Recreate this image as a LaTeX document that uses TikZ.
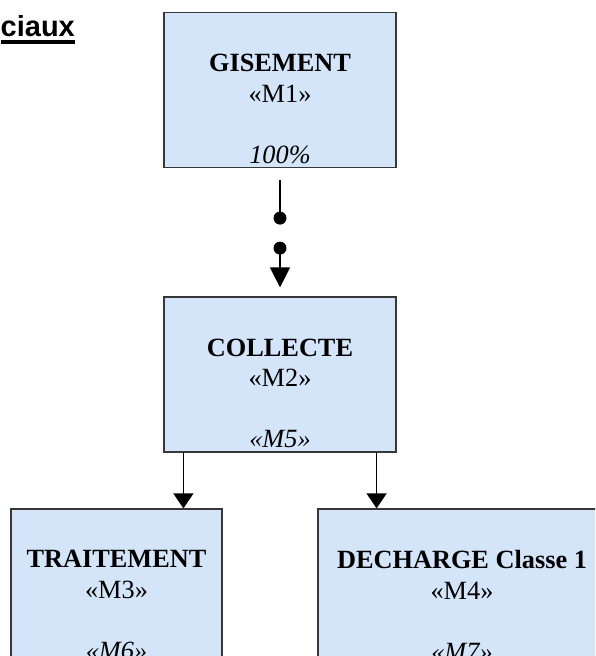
\documentclass[tikz,border=0pt]{standalone}
\usepackage{fontspec}
\setmainfont{Liberation Serif}
\newfontfamily\arialfont{Liberation Sans}
\usetikzlibrary{arrows.meta}
\definecolor{fondbloc}{RGB}{212,229,249}
\definecolor{bordbloc}{RGB}{55,55,55}
\begin{document}
\begin{tikzpicture}[x=1pt, y=-1pt,
			bloc/.style = {draw=bordbloc, line width=1.2pt, fill=fondbloc, minimum height=155pt, inner sep=0pt},
			texte/.style = {align=center, inner sep=0pt, anchor=north, font=\fontsize{26.3}{30.6}\selectfont},
			lien/.style = {line width=1.2pt},
			fleche/.style = {line width=1.2pt, -{Triangle[width=20pt,length=#1]}},
			fleche/.default = 15pt
					]
			\def\ytexte{-42pt}
			\def\rdot{6.5pt}
			\useasboundingbox (0,0) rectangle (595,656);
			\clip (0,0) rectangle (595,656);
			\node[font=\arialfont\bfseries\fontsize{29}{34}\selectfont, anchor=base west, inner sep=0pt] (titre) at (0.5,36) {ciaux};
			\draw[line width=3.5pt] ([yshift=-6pt]titre.base west) -- ([yshift=-6pt]titre.base east);
			\node[bloc, minimum width=232pt] (m1) at (280,90) {};
			\node[texte] (t1) at ([yshift=\ytexte]m1.north) {\textbf{GISEMENT}\\«M1»\\[30.6pt]\textit{100\%}};
			\node[bloc, minimum width=232pt] (m2) at (280,374.5) {};
			\node[texte] (t2) at ([yshift=\ytexte]m2.north) {\textbf{COLLECTE}\\«M2»\\[30.6pt]\textit{«M5»}};
			\node[bloc, minimum width=211pt] (m3) at (116.5,586.5) {};
			\node[texte] (t3) at ([yshift=\ytexte]m3.north) {\textbf{TRAITEMENT}\\«M3»\\[30.6pt]\textit{«M6»}};
			\node[bloc, minimum width=288pt] (m4) at (462,586.5) {};
			\node[texte] (t4) at ([yshift=\ytexte]m4.north) {\textbf{DECHARGE Classe 1}\\«M4»\\[30.6pt]\textit{«M7»}};
			\coordinate (p1) at ([yshift=-50pt]m1.south);
			\coordinate (p2) at ([yshift=-80pt]m1.south);
			\draw[lien] ([yshift=-12pt]m1.south) -- (p1);
			\fill (p1) circle (\rdot);
			\fill (p2) circle (\rdot);
			\draw[fleche=20pt] (p2) -- ([yshift=9pt]m2.north);
			\coordinate (g) at ([xshift=20pt]m2.south west);
			\coordinate (d) at ([xshift=-20pt]m2.south east);
			\draw[fleche] (g) -- (g |- m3.north);
			\draw[fleche] (d) -- (d |- m4.north);
		\end{tikzpicture}
\end{document}
